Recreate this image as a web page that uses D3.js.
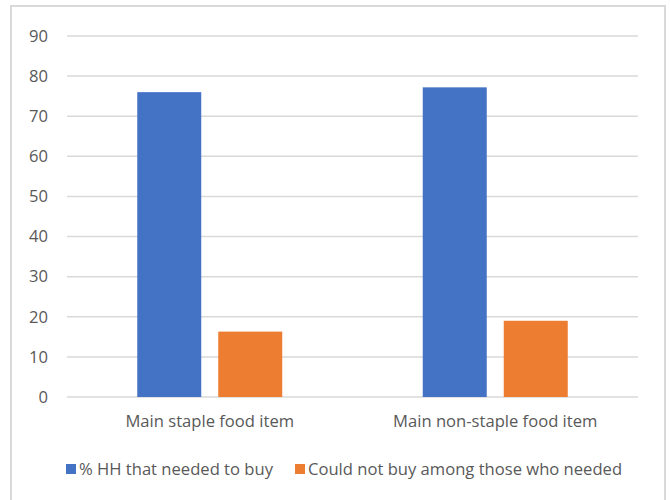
<!DOCTYPE html>
<html>
<head>
<meta charset="utf-8">
<script src="https://cdn.jsdelivr.net/npm/d3@7"></script>
<style>
  html, body { margin: 0; padding: 0; background: #fff; }
  svg { display: block; }
  text { font-family: "Open Sans", "Noto Sans", sans-serif; fill: #595959; }
</style>
</head>
<body>
<svg id="chart" width="670" height="500"></svg>
<script>
// Food purchase access, by item type
const categories = ["Main staple food item", "Main non-staple food item"];
const seriesNames = ["% HH that needed to buy", "Could not buy among those who needed"];
const neededToBuy = [76.0, 77.2];
const couldNotBuy = [16.3, 19.0];
const yTicks = [0, 10, 20, 30, 40, 50, 60, 70, 80, 90];
const colors = ["#4472c4", "#ed7d31"];

const series = [neededToBuy, couldNotBuy];
const FONT = '"Open Sans", "Noto Sans", sans-serif';
const FS = 16.6;

const svg = d3.select("#chart");

// Chart frame
svg.append("rect")
  .attr("x", 11).attr("y", 6)
  .attr("width", 654).attr("height", 500)
  .attr("fill", "#fff")
  .attr("stroke", "#d9d9d9")
  .attr("stroke-width", 2);

const plot = { left: 67, right: 638, top: 36, bottom: 397 };

const x0 = d3.scaleBand()
  .domain(categories)
  .range([plot.left, plot.right])
  .paddingInner(0).paddingOuter(0);

const groupWidth = 145; // two bars plus the gap between them
const x1 = d3.scaleBand()
  .domain(d3.range(series.length))
  .range([0, groupWidth])
  .paddingInner(0.21);

const y = d3.scaleLinear()
  .domain([0, 90])
  .range([plot.bottom, plot.top]);

// Gridlines
svg.append("g")
  .selectAll("line")
  .data(yTicks)
  .join("line")
  .attr("x1", plot.left).attr("x2", plot.right)
  .attr("y1", d => y(d)).attr("y2", d => y(d))
  .attr("stroke", "#d9d9d9")
  .attr("stroke-width", 1.5);

// Y axis labels
const yAxis = d3.axisLeft(y).tickValues(yTicks).tickSize(0).tickPadding(0);
const yg = svg.append("g")
  .attr("transform", `translate(${plot.left - 19},0)`)
  .call(yAxis);
yg.select(".domain").remove();
yg.selectAll("text")
  .attr("font-size", FS)
  .style("font-family", FONT)
  .attr("fill", "#595959");

// Bars
const groups = svg.append("g")
  .selectAll("g")
  .data(categories)
  .join("g")
  .attr("transform", d => `translate(${x0(d) + x0.bandwidth() / 2 - groupWidth / 2},0)`);

groups.selectAll("rect")
  .data((d, i) => series.map((s, k) => ({ k, v: s[i] })))
  .join("rect")
  .attr("x", d => x1(d.k))
  .attr("width", x1.bandwidth())
  .attr("y", d => y(d.v))
  .attr("height", d => y(0) - y(d.v))
  .attr("fill", d => colors[d.k]);

// Category labels
const xAxis = d3.axisBottom(x0).tickSize(0).tickPadding(0);
const xg = svg.append("g")
  .attr("transform", `translate(0,${plot.bottom + 24})`)
  .call(xAxis);
xg.select(".domain").remove();
xg.selectAll("text")
  .attr("font-size", FS)
  .attr("dy", "0.35em")
  .style("font-family", FONT)
  .attr("fill", "#595959");

// Legend
const legendY = 469;
const legendItems = [
  { name: seriesNames[0], color: colors[0], x: 66 },
  { name: seriesNames[1], color: colors[1], x: 295 }
];
const lg = svg.append("g")
  .selectAll("g")
  .data(legendItems)
  .join("g")
  .attr("transform", d => `translate(${d.x},${legendY})`);
lg.append("rect")
  .attr("x", 0).attr("y", -5)
  .attr("width", 10).attr("height", 10)
  .attr("fill", d => d.color);
lg.append("text")
  .attr("x", 13)
  .attr("dy", "0.35em")
  .attr("font-size", FS)
  .text(d => d.name);
</script>
</body>
</html>
